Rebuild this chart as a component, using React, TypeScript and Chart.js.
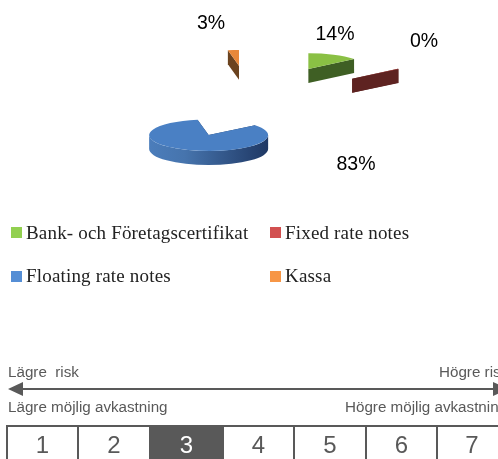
import React, { useEffect, useRef } from "react";
import { Chart, registerables } from "chart.js";

Chart.register(...registerables);

const categories = ["Bank- och Företagscertifikat", "Fixed rate notes", "Floating rate notes", "Kassa"];
// The 0 % slice is still drawn in the reference as a sliver, so it holds a very small share.
const shares = [14, 0.3, 83, 3];
const percentLabels = ["14%", "0%", "83%", "3%"];
const topColors = ["#8ac044", "#c0504d", "#4a80c4", "#e8883a"];
const wallColors = ["#3f5f24", "#5e2321", "#1f3864", "#6b431f"];
const legendColors = ["#92d050", "#d25050", "#558ed5", "#f79646"];
const riskLevels = [1, 2, 3, 4, 5, 6, 7];
const activeRisk = 3;

const W = 498;
const H = 459;
const SCREEN_CX = 253;
const SCREEN_CY = 101.5;
const RADIUS = 59.5;
const SQUASH = 0.265;
const EXPLODE_SQUASH = 0.28;
const DEPTH = 14;
const EXPLODE = 128;
const GRAY = "#595959";
const SANS = '"Liberation Sans", Arial, sans-serif';
const SERIF = '"Liberation Serif", serif';

const sliceNudgeX = [1, 0, 0, -2];
const labelPositions = [
  [335, 35],
  [424, 42],
  [356, 165],
  [211, 24],
];
const legendPositions = [
  [11, 227],
  [270, 227],
  [11, 271],
  [270, 271],
];
const cellEdges = [7, 78, 150, 223, 294, 366, 437, 507];

const pie3d = {
  id: "pie3d",
  beforeDatasetDraw(chart: any) {
    const ctx: CanvasRenderingContext2D = chart.ctx;
    const arcs = chart.getDatasetMeta(0).data;
    arcs.forEach((arc: any, i: number) => {
      const start = arc.startAngle;
      const end = arc.endAngle;
      const mid = (start + end) / 2;
      const ax = SCREEN_CX + Math.cos(mid) * EXPLODE + sliceNudgeX[i];
      const ay = SCREEN_CY + Math.sin(mid) * EXPLODE * EXPLODE_SQUASH;
      const r = arc.outerRadius;
      const px = (a: number) => ax + Math.cos(a) * r;
      const py = (a: number) => ay + Math.sin(a) * r * SQUASH;

      // cut faces
      ctx.fillStyle = wallColors[i];
      [start, end].forEach((a) => {
        ctx.beginPath();
        ctx.moveTo(ax, ay);
        ctx.lineTo(px(a), py(a));
        ctx.lineTo(px(a), py(a) + DEPTH);
        ctx.lineTo(ax, ay + DEPTH);
        ctx.closePath();
        ctx.fill();
      });

      // rim: only the part that faces the viewer
      const a0 = Math.max(start, 0);
      const a1 = Math.min(end, Math.PI);
      if (a1 > a0) {
        ctx.beginPath();
        ctx.ellipse(ax, ay, r, r * SQUASH, 0, a0, a1);
        ctx.ellipse(ax, ay + DEPTH, r, r * SQUASH, 0, a1, a0, true);
        ctx.closePath();
        const g = ctx.createLinearGradient(ax - r, 0, ax + r, 0);
        g.addColorStop(0, "#4b7dbb");
        g.addColorStop(0.3, "#4674ad");
        g.addColorStop(1, wallColors[i]);
        ctx.fillStyle = i === 2 ? g : wallColors[i];
        ctx.fill();
      }

      // top face, drawn by the library's own arc element
      ctx.save();
      ctx.translate(ax, ay);
      ctx.scale(1, SQUASH);
      ctx.translate(-arc.x, -arc.y);
      arc.draw(ctx);
      ctx.restore();
    });

    ctx.save();
    ctx.font = `19.5px ${SANS}`;
    ctx.fillStyle = "#000";
    ctx.textAlign = "center";
    ctx.textBaseline = "middle";
    percentLabels.forEach((t, i) => ctx.fillText(t, labelPositions[i][0], labelPositions[i][1]));
    ctx.restore();
    return false;
  },
};

const abs = (x: number, y: number): React.CSSProperties => ({ position: "absolute", left: x, top: y, whiteSpace: "nowrap" });

export default function App() {
  const ref = useRef<HTMLCanvasElement>(null);
  useEffect(() => {
    const chart = new Chart(ref.current!, {
      type: "pie",
      data: {
        labels: categories,
        datasets: [{ data: shares, backgroundColor: topColors, borderWidth: 0, hoverOffset: 0 }],
      },
      options: {
        responsive: false,
        animation: false,
        events: [],
        radius: RADIUS,
        plugins: { legend: { display: false }, tooltip: { enabled: false } },
      } as any,
      plugins: [pie3d as any],
    });
    return () => chart.destroy();
  }, []);

  const smallText: React.CSSProperties = { font: `15.2px/16px ${SANS}`, color: GRAY };
  return (
    <div style={{ position: "fixed", left: 0, top: 0, width: W, height: H, overflow: "hidden", background: "#fff" }}>
      <canvas ref={ref} width={W} height={H} style={{ position: "absolute", left: 0, top: 0, display: "block" }} />

      {categories.map((c, i) => (
        <React.Fragment key={c}>
          <div style={{ ...abs(legendPositions[i][0], legendPositions[i][1]), width: 11, height: 11, background: legendColors[i] }} />
          <div
            style={{
              ...abs(legendPositions[i][0] + 15, legendPositions[i][1] - 4 - (i > 1 ? 1 : 0)),
              font: `19px/20px ${SERIF}`,
              letterSpacing: "0.18px",
              color: "#222",
            }}
          >
            {c}
          </div>
        </React.Fragment>
      ))}

      <div style={{ ...abs(8, 364), ...smallText }}>Lägre&nbsp; risk</div>
      <div style={{ ...abs(439, 364), ...smallText }}>Högre risk</div>
      <div style={{ ...abs(8, 399), ...smallText }}>Lägre möjlig avkastning</div>
      <div style={{ ...abs(345, 399), ...smallText }}>Högre möjlig avkastning</div>

      <svg width={W} height={H} style={{ position: "absolute", left: 0, top: 0 }}>
        <line x1={20} x2={500} y1={389} y2={389} stroke={GRAY} strokeWidth={2} />
        <polygon points="8,389 23,382 23,396" fill={GRAY} />
        <polygon points="508,389 493,382 493,396" fill={GRAY} />
        <line x1={6} x2={510} y1={426} y2={426} stroke={GRAY} strokeWidth={2} />
        {cellEdges.slice(0, 7).map((x) => (
          <line key={x} x1={x} x2={x} y1={426} y2={460} stroke={GRAY} strokeWidth={2} />
        ))}
      </svg>

      {riskLevels.map((n, i) => (
        <div
          key={n}
          style={{
            ...abs(cellEdges[i], 425),
            width: cellEdges[i + 1] - cellEdges[i],
            height: 34,
            textAlign: "center",
            font: `24px/40px ${SANS}`,
            color: n === activeRisk ? "#fff" : GRAY,
            background: n === activeRisk ? GRAY : "transparent",
          }}
        >
          {n}
        </div>
      ))}
    </div>
  );
}
